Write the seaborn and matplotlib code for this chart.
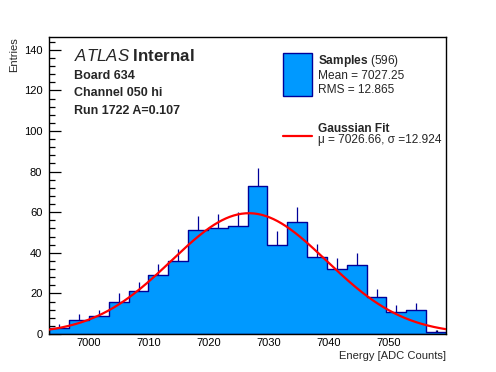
"""
ATLAS-style pulse energy histogram with a Gaussian fit overlay.
"""
import numpy as np
import pandas as pd
import seaborn as sns
from matplotlib import pyplot as plt
from matplotlib.patches import Rectangle
from matplotlib.lines import Line2D

# histogram binning and counts
BIN_LO = 6993.4
BIN_HI = 7059.5
N_BINS = 20
counts = [3, 7, 9, 16, 21, 29, 36, 51, 52, 53,
          73, 44, 55, 38, 32, 34, 18, 11, 12, 1]

# fit parameters (from the legend), amplitude
fit_mu = 7026.66
fit_sigma = 12.924
fit_amp = 59.5

n_samples = 596
sample_mean = 7027.25
sample_rms = 12.865

x_ticks = [7000, 7010, 7020, 7030, 7040, 7050]
y_ticks = [0, 20, 40, 60, 80, 100, 120, 140]
Y_MAX = 146.3

FILL = '#0099ff'
EDGE = '#000099'

sns.set_style('ticks')
plt.rcParams['font.family'] = ['Liberation Sans', 'DejaVu Sans']
plt.rcParams['mathtext.fontset'] = 'custom'
plt.rcParams['mathtext.rm'] = 'Liberation Sans'
plt.rcParams['mathtext.it'] = 'Liberation Sans:italic'
plt.rcParams['mathtext.bf'] = 'Liberation Sans:bold'

edges = np.linspace(BIN_LO, BIN_HI, N_BINS + 1)
centers = 0.5 * (edges[:-1] + edges[1:])
hist_df = pd.DataFrame({'energy': centers, 'entries': counts})
counts = np.array(counts, dtype=float)

fig = plt.figure(figsize=(4.96, 3.72), dpi=100)
ax = fig.add_axes([0.0994, 0.1022, 0.7998, 0.7983])

sns.histplot(data=hist_df, x='energy', weights='entries', bins=list(edges),
             element='step', fill=True, color=FILL, alpha=1,
             edgecolor=EDGE, linewidth=1.0, ax=ax)
# upper half of the poisson error bars (lower half hidden by the fill)
ax.vlines(centers, counts, counts + np.sqrt(counts), color=EDGE,
          linewidth=0.9, zorder=3)

xs = np.linspace(BIN_LO, BIN_HI, 300)
gauss = fit_amp * np.exp(-0.5 * ((xs - fit_mu) / fit_sigma) ** 2)
sns.lineplot(x=xs, y=gauss, color='#ff0000', linewidth=1.6, ax=ax,
             zorder=4)

ax.set_xlim(BIN_LO, BIN_HI)
ax.set_ylim(0, Y_MAX)
ax.set_xticks(x_ticks)
ax.set_yticks(y_ticks)
ax.set_xticks(np.arange(6994, 7060, 2), minor=True)
ax.set_yticks(np.arange(0, Y_MAX, 4), minor=True)
ax.tick_params(axis='both', which='both', direction='in', labelsize=8,
               colors='black', width=0.9)
ax.tick_params(axis='x', which='major', length=6.5, pad=3)
ax.tick_params(axis='x', which='minor', length=3.2)
ax.tick_params(axis='y', which='major', length=8.6, pad=5)
ax.tick_params(axis='y', which='minor', length=4.3)
for side in ax.spines.values():
    side.set_color('black')
    side.set_linewidth(1.0)

ax.set_xlabel('Energy [ADC Counts]', loc='right', fontsize=8, labelpad=2)
ax.set_ylabel('Entries', loc='top', fontsize=8, labelpad=3)

# labels on the left
ax.text(0.063, 0.935, r'$\mathit{ATLAS}$ Internal', transform=ax.transAxes,
        fontsize=12.2, fontweight='bold', va='center', ha='left')
ax.text(0.063, 0.868, 'Board 634', transform=ax.transAxes,
        fontsize=9, fontweight='bold', va='center', ha='left')
ax.text(0.063, 0.810, 'Channel 050 hi', transform=ax.transAxes,
        fontsize=9, fontweight='bold', va='center', ha='left')
ax.text(0.063, 0.752, 'Run 1722 A=0.107', transform=ax.transAxes,
        fontsize=9, fontweight='bold', va='center', ha='left')

# hand-made legend
ax.add_patch(Rectangle((0.590, 0.800), 0.072, 0.146, transform=ax.transAxes,
                       facecolor=FILL, edgecolor=EDGE, linewidth=1.0,
                       zorder=5))
ax.text(0.677, 0.918, r'$\mathbf{Samples}$ (%d)' % n_samples,
        transform=ax.transAxes, fontsize=8.6, va='center', ha='left')
ax.text(0.677, 0.869, f'Mean = {sample_mean:.2f}', transform=ax.transAxes,
        fontsize=8.6, va='center', ha='left')
ax.text(0.677, 0.820, f'RMS = {sample_rms:.3f}', transform=ax.transAxes,
        fontsize=8.6, va='center', ha='left')
ax.add_line(Line2D([0.589, 0.662], [0.667, 0.667], transform=ax.transAxes,
                   color='#ff0000', linewidth=1.6, zorder=5))
ax.text(0.677, 0.690, 'Gaussian Fit', transform=ax.transAxes,
        fontsize=8.6, fontweight='bold', va='center', ha='left')
ax.text(0.677, 0.652, f'\u03bc = {fit_mu:.2f}, \u03c3 ={fit_sigma:.3f}',
        transform=ax.transAxes, fontsize=8.6, va='center', ha='left')

fig.savefig('out.png', dpi=100)
